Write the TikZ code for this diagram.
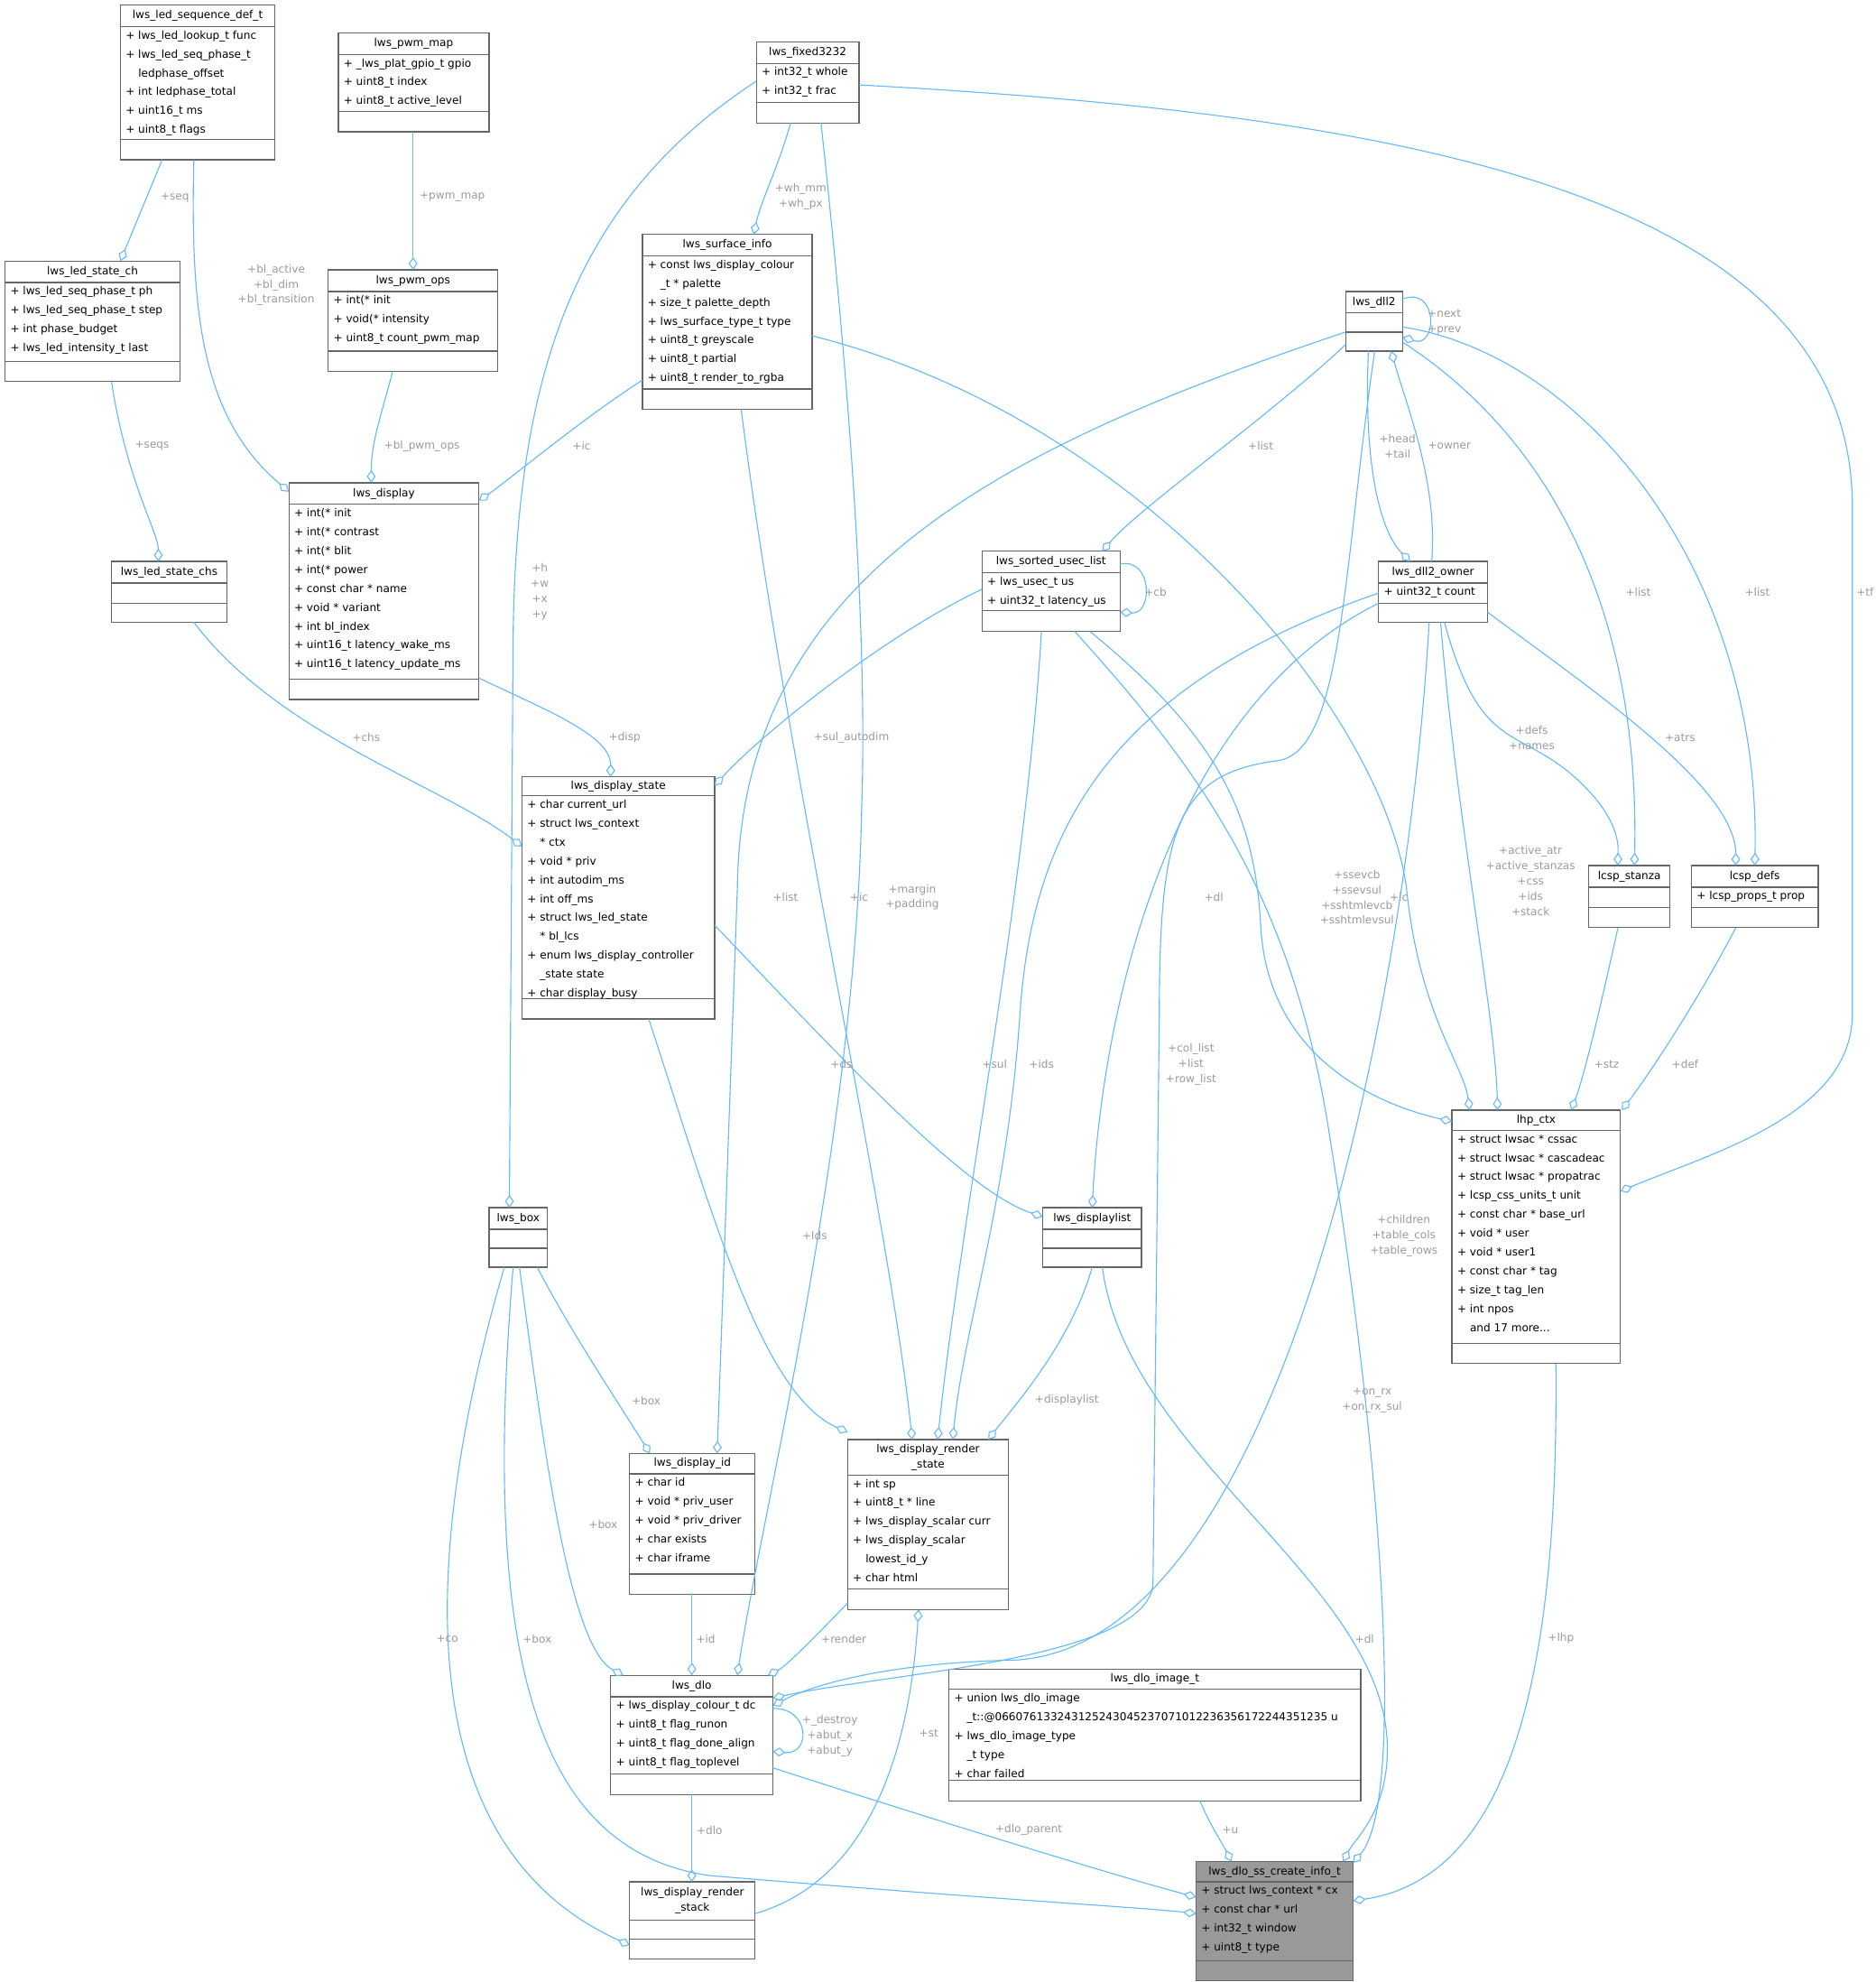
\documentclass[tikz,border=0pt]{standalone}
\usepackage{fontspec}
\setmainfont{DejaVu Sans}
\usetikzlibrary{arrows.meta}
\definecolor{ec}{HTML}{63B8FF}
\definecolor{lc}{HTML}{9A9A9A}
\definecolor{bc}{HTML}{666666}
\definecolor{gf}{HTML}{999999}
\tikzset{
  clsbox/.style={draw=bc, line width=0.9pt, inner sep=0pt, outer sep=0pt},
  clsline/.style={draw=bc, line width=0.9pt},
  ttl/.style={inner sep=0pt, align=center, font=\fontsize{8.6}{12}\selectfont},
  attr/.style={inner sep=0pt, anchor=north west, align=left, font=\fontsize{8.6}{14.9}\selectfont},
  lbl/.style={inner sep=0pt, align=center, text=lc, font=\fontsize{8.6}{12}\selectfont},
  edge/.style={draw=ec, line width=0.8pt, -{Diamond[open,length=10pt,width=7pt]}},
}
\newcommand\cls[9][]{%
  \expandafter\def\csname xo@#2\endcsname{#3}%
  \expandafter\def\csname yo@#2\endcsname{#4}%
  \expandafter\def\csname so@#2\endcsname{#7}%
  \node[clsbox, minimum width={(#5-#3)*1pt}, minimum height={(#6-#4)*1pt}, #1] (#2) at ({(#3+#5)/2},{(#4+#6)/2}) {};
  \draw[clsline] (#3,#7) -- (#5,#7);
  \draw[clsline] (#3,#8) -- (#5,#8);
  \node[ttl] (#2-t) at ({(#3+#5)/2},{(#4+#7)/2}) {#9};
}
\newcommand\attrs[3]{\node[attr] (#1-a) at ({\csname xo@#1\endcsname+4},{\csname so@#1\endcsname+3}) {#3};}
\newcommand\at[3]{([shift={({#2-\csname xo@#1\endcsname},{#3-\csname yo@#1\endcsname})}]#1.north west)}
\newcommand\ind{\hspace*{10pt}}
\begin{document}
\begin{tikzpicture}[x=1pt,y=-1pt]
\useasboundingbox (0,0) rectangle (1480,1564);
% classes
\cls{seqdef}{95}{4}{217}{126}{21}{110}{lws\_led\_sequence\_def\_t}
\attrs{seqdef}{32}{+ lws\_led\_lookup\_t func\\+ lws\_led\_seq\_phase\_t\\\ind ledphase\_offset\\+ int ledphase\_total\\+ uint16\_t ms\\+ uint8\_t flags}
\cls{pwmmap}{267}{26}{386}{104}{43}{88}{lws\_pwm\_map}
\attrs{pwmmap}{54}{+ \_lws\_plat\_gpio\_t gpio\\+ uint8\_t index\\+ uint8\_t active\_level}
\cls{fixed}{597}{33}{678}{97}{50}{81}{lws\_fixed3232}
\attrs{fixed}{61}{+ int32\_t whole\\+ int32\_t frac}
\cls{ledch}{4}{206}{142}{301}{223}{285}{lws\_led\_state\_ch}
\attrs{ledch}{234}{+ lws\_led\_seq\_phase\_t ph\\+ lws\_led\_seq\_phase\_t step\\+ int phase\_budget\\+ lws\_led\_intensity\_t last}
\cls{pwmops}{259}{213}{393}{293}{230}{277}{lws\_pwm\_ops}
\attrs{pwmops}{241}{+ int(* init\\+ void(* intensity\\+ uint8\_t count\_pwm\_map}
\cls{surf}{507}{185}{641}{323}{202}{307}{lws\_surface\_info}
\attrs{surf}{213}{+ const lws\_display\_colour\\\ind \_t * palette\\+ size\_t palette\_depth\\+ lws\_surface\_type\_t type\\+ uint8\_t greyscale\\+ uint8\_t partial\\+ uint8\_t render\_to\_rgba}
\cls{dll2}{1062}{230}{1107}{277}{247}{262}{lws\_dll2}
\cls{disp}{228}{381}{378}{552}{398}{536}{lws\_display}
\attrs{disp}{409}{+ int(* init\\+ int(* contrast\\+ int(* blit\\+ int(* power\\+ const char * name\\+ void * variant\\+ int bl\_index\\+ uint16\_t latency\_wake\_ms\\+ uint16\_t latency\_update\_ms}
\cls{chs}{88}{443}{179}{491}{460}{476}{lws\_led\_state\_chs}
\cls{sul}{775}{435}{884}{498}{452}{482}{lws\_sorted\_usec\_list}
\attrs{sul}{463}{+ lws\_usec\_t us\\+ uint32\_t latency\_us}
\cls{owner}{1088}{443}{1174}{491}{460}{476}{lws\_dll2\_owner}
\attrs{owner}{471}{+ uint32\_t count}
\cls{dstate}{412}{613}{564}{804}{628}{788}{lws\_display\_state}
\attrs{dstate}{639}{+ char current\_url\\+ struct lws\_context\\\ind * ctx\\+ void * priv\\+ int autodim\_ms\\+ int off\_ms\\+ struct lws\_led\_state\\\ind * bl\_lcs\\+ enum lws\_display\_controller\\\ind \_state state\\+ char display\_busy}
\cls{stanza}{1254}{683}{1318}{732}{700}{716}{lcsp\_stanza}
\cls{defs}{1335}{683}{1435}{732}{700}{716}{lcsp\_defs}
\attrs{defs}{711}{+ lcsp\_props\_t prop}
\cls{lhp}{1146}{876}{1279}{1076}{892}{1060}{lhp\_ctx}
\attrs{lhp}{903}{+ struct lwsac * cssac\\+ struct lwsac * cascadeac\\+ struct lwsac * propatrac\\+ lcsp\_css\_units\_t unit\\+ const char * base\_url\\+ void * user\\+ void * user1\\+ const char * tag\\+ size\_t tag\_len\\+ int npos\\\ind and 17 more...}
\cls{box}{386}{953}{432}{1000}{970}{985}{lws\_box}
\cls{dlist}{823}{953}{901}{1000}{970}{985}{lws\_displaylist}
\cls{did}{497}{1147}{596}{1258}{1163}{1242}{lws\_display\_id}
\attrs{did}{1174}{+ char id\\+ void * priv\_user\\+ void * priv\_driver\\+ char exists\\+ char iframe}
\cls{drs}{669}{1136}{796}{1270}{1164}{1254}{lws\_display\_render\\\_state}
\attrs{drs}{1175}{+ int sp\\+ uint8\_t * line\\+ lws\_display\_scalar curr\\+ lws\_display\_scalar\\\ind lowest\_id\_y\\+ char html}
\cls{dlo}{482}{1322}{610}{1416}{1339}{1400}{lws\_dlo}
\attrs{dlo}{1350}{+ lws\_display\_colour\_t dc\\+ uint8\_t flag\_runon\\+ uint8\_t flag\_done\_align\\+ uint8\_t flag\_toplevel}
\cls{img}{749}{1317}{1074}{1421}{1333}{1405}{lws\_dlo\_image\_t}
\attrs{img}{1344}{+ union lws\_dlo\_image\\\ind \_t::@066076133243125243045237071012236356172244351235 u\\+ lws\_dlo\_image\_type\\\ind \_t type\\+ char failed}
\cls{rstack}{497}{1485}{596}{1546}{1515}{1530}{lws\_display\_render\\\_stack}
\cls[fill=gf]{ssci}{944}{1469}{1068}{1563}{1485}{1547}{lws\_dlo\_ss\_create\_info\_t}
\attrs{ssci}{1496}{+ struct lws\_context * cx\\+ const char * url\\+ int32\_t window\\+ uint8\_t type}
% edges
\draw[edge] \at{seqdef}{128}{126} -- \at{ledch}{95}{206};
\draw[edge] \at{seqdef}{153}{126} .. controls (150,250) and (160,330) .. \at{disp}{228}{388};
\draw[edge] \at{pwmmap}{326}{104} -- \at{pwmops}{326}{213};
\draw[edge] \at{pwmops}{310}{293} .. controls (300,330) and (293,350) .. \at{disp}{293}{381};
\draw[edge] \at{surf}{507}{300} .. controls (460,330) and (400,380) .. \at{disp}{378}{395};
\draw[edge] \at{ledch}{88}{301} .. controls (100,380) and (125,420) .. \at{chs}{125}{443};
\draw[edge] \at{fixed}{624}{97} .. controls (615,130) and (600,160) .. \at{surf}{595}{185};
\draw[edge] \at{fixed}{597}{64} .. controls (450,160) and (408,300) .. (405,500) -- \at{box}{402}{953};
\draw[edge] \at{fixed}{648}{97} .. controls (670,300) and (685,500) .. (680,640) .. controls (675,900) and (600,1200) .. \at{dlo}{582}{1322};
\draw[edge] \at{fixed}{678}{67} .. controls (1100,90) and (1462,150) .. (1462,400) -- (1462,800) .. controls (1462,880) and (1350,910) .. \at{lhp}{1279}{940};
\draw[edge] \at{dll2}{1107}{236} .. controls (1135,225) and (1135,275) .. \at{dll2}{1107}{266};
\draw[edge] \at{dll2}{1062}{272} .. controls (1000,330) and (900,400) .. \at{sul}{870}{435};
\draw[edge] \at{dll2}{1062}{262} .. controls (800,350) and (585,450) .. (582,700) -- \at{did}{566}{1147};
\draw[edge] \at{dll2}{1080}{277} .. controls (1076,370) and (1090,420) .. \at{owner}{1113}{443};
\draw[edge] \at{owner}{1130}{443} .. controls (1135,380) and (1110,320) .. \at{dll2}{1098}{277};
\draw[edge] \at{dll2}{1107}{270} .. controls (1200,330) and (1295,450) .. \at{stanza}{1290}{683};
\draw[edge] \at{dll2}{1107}{258} .. controls (1250,280) and (1390,450) .. \at{defs}{1385}{683};
\draw[edge] \at{dll2}{1085}{277} .. controls (1060,450) and (1060,590) .. (1010,600) .. controls (930,610) and (915,650) .. (915,800) -- (910,1250) .. controls (905,1310) and (700,1320) .. \at{dlo}{610}{1340};
\draw[edge] \at{owner}{1128}{491} .. controls (1110,800) and (1010,1300) .. (800,1310) .. controls (700,1312) and (640,1330) .. \at{dlo}{610}{1346};
\draw[edge] \at{sul}{884}{445} .. controls (910,440) and (910,485) .. \at{sul}{884}{483};
\draw[edge] \at{sul}{775}{465} .. controls (700,500) and (600,580) .. \at{dstate}{564}{620};
\draw[edge] \at{sul}{822}{498} .. controls (810,700) and (760,950) .. \at{drs}{740}{1136};
\draw[edge] \at{sul}{860}{498} .. controls (960,580) and (990,640) .. (995,730) .. controls (1000,830) and (1080,870) .. \at{lhp}{1146}{885};
\draw[edge] \at{sul}{848}{498} .. controls (940,600) and (1020,700) .. (1050,900) .. controls (1090,1150) and (1110,1420) .. \at{ssci}{1068}{1470};
\draw[edge] \at{owner}{1088}{468} .. controls (880,540) and (815,650) .. (805,800) .. controls (795,950) and (760,1050) .. \at{drs}{752}{1136};
\draw[edge] \at{owner}{1088}{476} .. controls (920,560) and (870,800) .. \at{dlist}{862}{953};
\draw[edge] \at{owner}{1140}{491} .. controls (1170,600) and (1200,570) .. (1250,620) .. controls (1280,650) and (1277,670) .. \at{stanza}{1277}{683};
\draw[edge] \at{owner}{1174}{483} .. controls (1250,540) and (1370,620) .. \at{defs}{1370}{683};
\draw[edge] \at{owner}{1137}{491} .. controls (1150,650) and (1180,800) .. \at{lhp}{1182}{876};
\draw[edge] \at{surf}{641}{265} .. controls (900,330) and (1090,560) .. (1110,700) .. controls (1120,800) and (1155,840) .. \at{lhp}{1160}{876};
\draw[edge] \at{surf}{585}{323} .. controls (620,600) and (700,950) .. \at{drs}{720}{1136};
\draw[edge] \at{disp}{378}{535} .. controls (430,560) and (482,580) .. \at{dstate}{482}{613};
\draw[edge] \at{chs}{153}{491} .. controls (220,580) and (350,620) .. \at{dstate}{412}{668};
\draw[edge] \at{dstate}{564}{730} .. controls (650,820) and (760,940) .. \at{dlist}{823}{960};
\draw[edge] \at{dstate}{512}{804} .. controls (560,950) and (600,1100) .. \at{drs}{669}{1130};
\draw[edge] \at{stanza}{1277}{732} .. controls (1262,800) and (1250,850) .. \at{lhp}{1240}{876};
\draw[edge] \at{defs}{1370}{732} .. controls (1340,790) and (1300,850) .. \at{lhp}{1280}{876};
\draw[edge] \at{lhp}{1228}{1076} .. controls (1230,1300) and (1200,1480) .. \at{ssci}{1068}{1500};
\draw[edge] \at{dlist}{862}{1000} .. controls (845,1060) and (800,1110) .. \at{drs}{780}{1136};
\draw[edge] \at{dlist}{870}{1000} .. controls (890,1150) and (1095,1250) .. (1095,1380) .. controls (1095,1430) and (1070,1450) .. \at{ssci}{1060}{1469};
\draw[edge] \at{box}{424}{1000} .. controls (450,1050) and (490,1110) .. \at{did}{513}{1147};
\draw[edge] \at{box}{410}{1000} .. controls (430,1150) and (450,1300) .. \at{dlo}{492}{1322};
\draw[edge] \at{box}{398}{1000} .. controls (340,1200) and (310,1450) .. \at{rstack}{497}{1535};
\draw[edge] \at{box}{405}{1000} .. controls (380,1300) and (420,1460) .. (560,1480) .. controls (800,1500) and (900,1505) .. \at{ssci}{944}{1510};
\draw[edge] \at{did}{546}{1258} -- \at{dlo}{546}{1322};
\draw[edge] \at{drs}{669}{1265} .. controls (640,1295) and (620,1315) .. \at{dlo}{606}{1322};
\draw[edge] \at{dlo}{610}{1348} .. controls (640,1348) and (640,1385) .. \at{dlo}{610}{1382};
\draw[edge] \at{dlo}{610}{1395} .. controls (750,1440) and (880,1480) .. \at{ssci}{944}{1497};
\draw[edge] \at{dlo}{546}{1416} -- \at{rstack}{546}{1485};
\draw[edge] \at{rstack}{596}{1510} .. controls (700,1480) and (720,1350) .. \at{drs}{725}{1270};
\draw[edge] \at{img}{947}{1421} .. controls (955,1440) and (965,1455) .. \at{ssci}{972}{1469};
% labels
\node[lbl] (l1) at (138,156) {+seq};
\node[lbl] (l2) at (218,225) {+bl\_active\\+bl\_dim\\+bl\_transition};
\node[lbl] (l3) at (357,155) {+pwm\_map};
\node[lbl] (l4) at (333,352) {+bl\_pwm\_ops};
\node[lbl] (l5) at (459,352) {+ic};
\node[lbl] (l6) at (120,352) {+seqs};
\node[lbl] (l7) at (632,155) {+wh\_mm\\+wh\_px};
\node[lbl] (l8) at (426,467) {+h\\+w\\+x\\+y};
\node[lbl] (l9) at (720,708) {+margin\\+padding};
\node[lbl] (l10) at (1472,467) {+tf};
\node[lbl] (l11) at (1140,254) {+next\\+prev};
\node[lbl] (l12) at (995,352) {+list};
\node[lbl] (l13) at (620,708) {+list};
\node[lbl] (l14) at (1103,352) {+head\\+tail};
\node[lbl] (l15) at (1144,352) {+owner};
\node[lbl] (l16) at (1293,467) {+list};
\node[lbl] (l17) at (1387,467) {+list};
\node[lbl] (l18) at (940,840) {+col\_list\\+list\\+row\_list};
\node[lbl] (l19) at (912,467) {+cb};
\node[lbl] (l20) at (672,582) {+sul\_autodim};
\node[lbl] (l21) at (785,840) {+sul};
\node[lbl] (l22) at (1071,708) {+ssevcb\\+ssevsul\\+sshtmlevcb\\+sshtmlevsul};
\node[lbl] (l23) at (1083,1105) {+on\_rx\\+on\_rx\_sul};
\node[lbl] (l24) at (822,840) {+ids};
\node[lbl] (l25) at (958,708) {+dl};
\node[lbl] (l26) at (1209,582) {+defs\\+names};
\node[lbl] (l27) at (1326,582) {+atrs};
\node[lbl] (l28) at (1208,695) {+active\_atr\\+active\_stanzas\\+css\\+ids\\+stack};
\node[lbl] (l29) at (1108,975) {+children\\+table\_cols\\+table\_rows};
\node[lbl] (l30) at (1104,708) {+ic};
\node[lbl] (l31) at (678,708) {+ic};
\node[lbl] (l32) at (493,582) {+disp};
\node[lbl] (l33) at (289,582) {+chs};
\node[lbl] (l34) at (664,840) {+ds};
\node[lbl] (l35) at (643,975) {+lds};
\node[lbl] (l36) at (1268,840) {+stz};
\node[lbl] (l37) at (1330,840) {+def};
\node[lbl] (l38) at (1232,1293) {+lhp};
\node[lbl] (l39) at (842,1105) {+displaylist};
\node[lbl] (l40) at (1077,1293) {+dl};
\node[lbl] (l41) at (510,1105) {+box};
\node[lbl] (l42) at (476,1203) {+box};
\node[lbl] (l43) at (353,1293) {+co};
\node[lbl] (l44) at (424,1293) {+box};
\node[lbl] (l45) at (557,1293) {+id};
\node[lbl] (l46) at (666,1293) {+render};
\node[lbl] (l47) at (655,1370) {+\_destroy\\+abut\_x\\+abut\_y};
\node[lbl] (l48) at (812,1444) {+dlo\_parent};
\node[lbl] (l49) at (560,1444) {+dlo};
\node[lbl] (l50) at (733,1368) {+st};
\node[lbl] (l51) at (971,1444) {+u};
\end{tikzpicture}
\end{document}
